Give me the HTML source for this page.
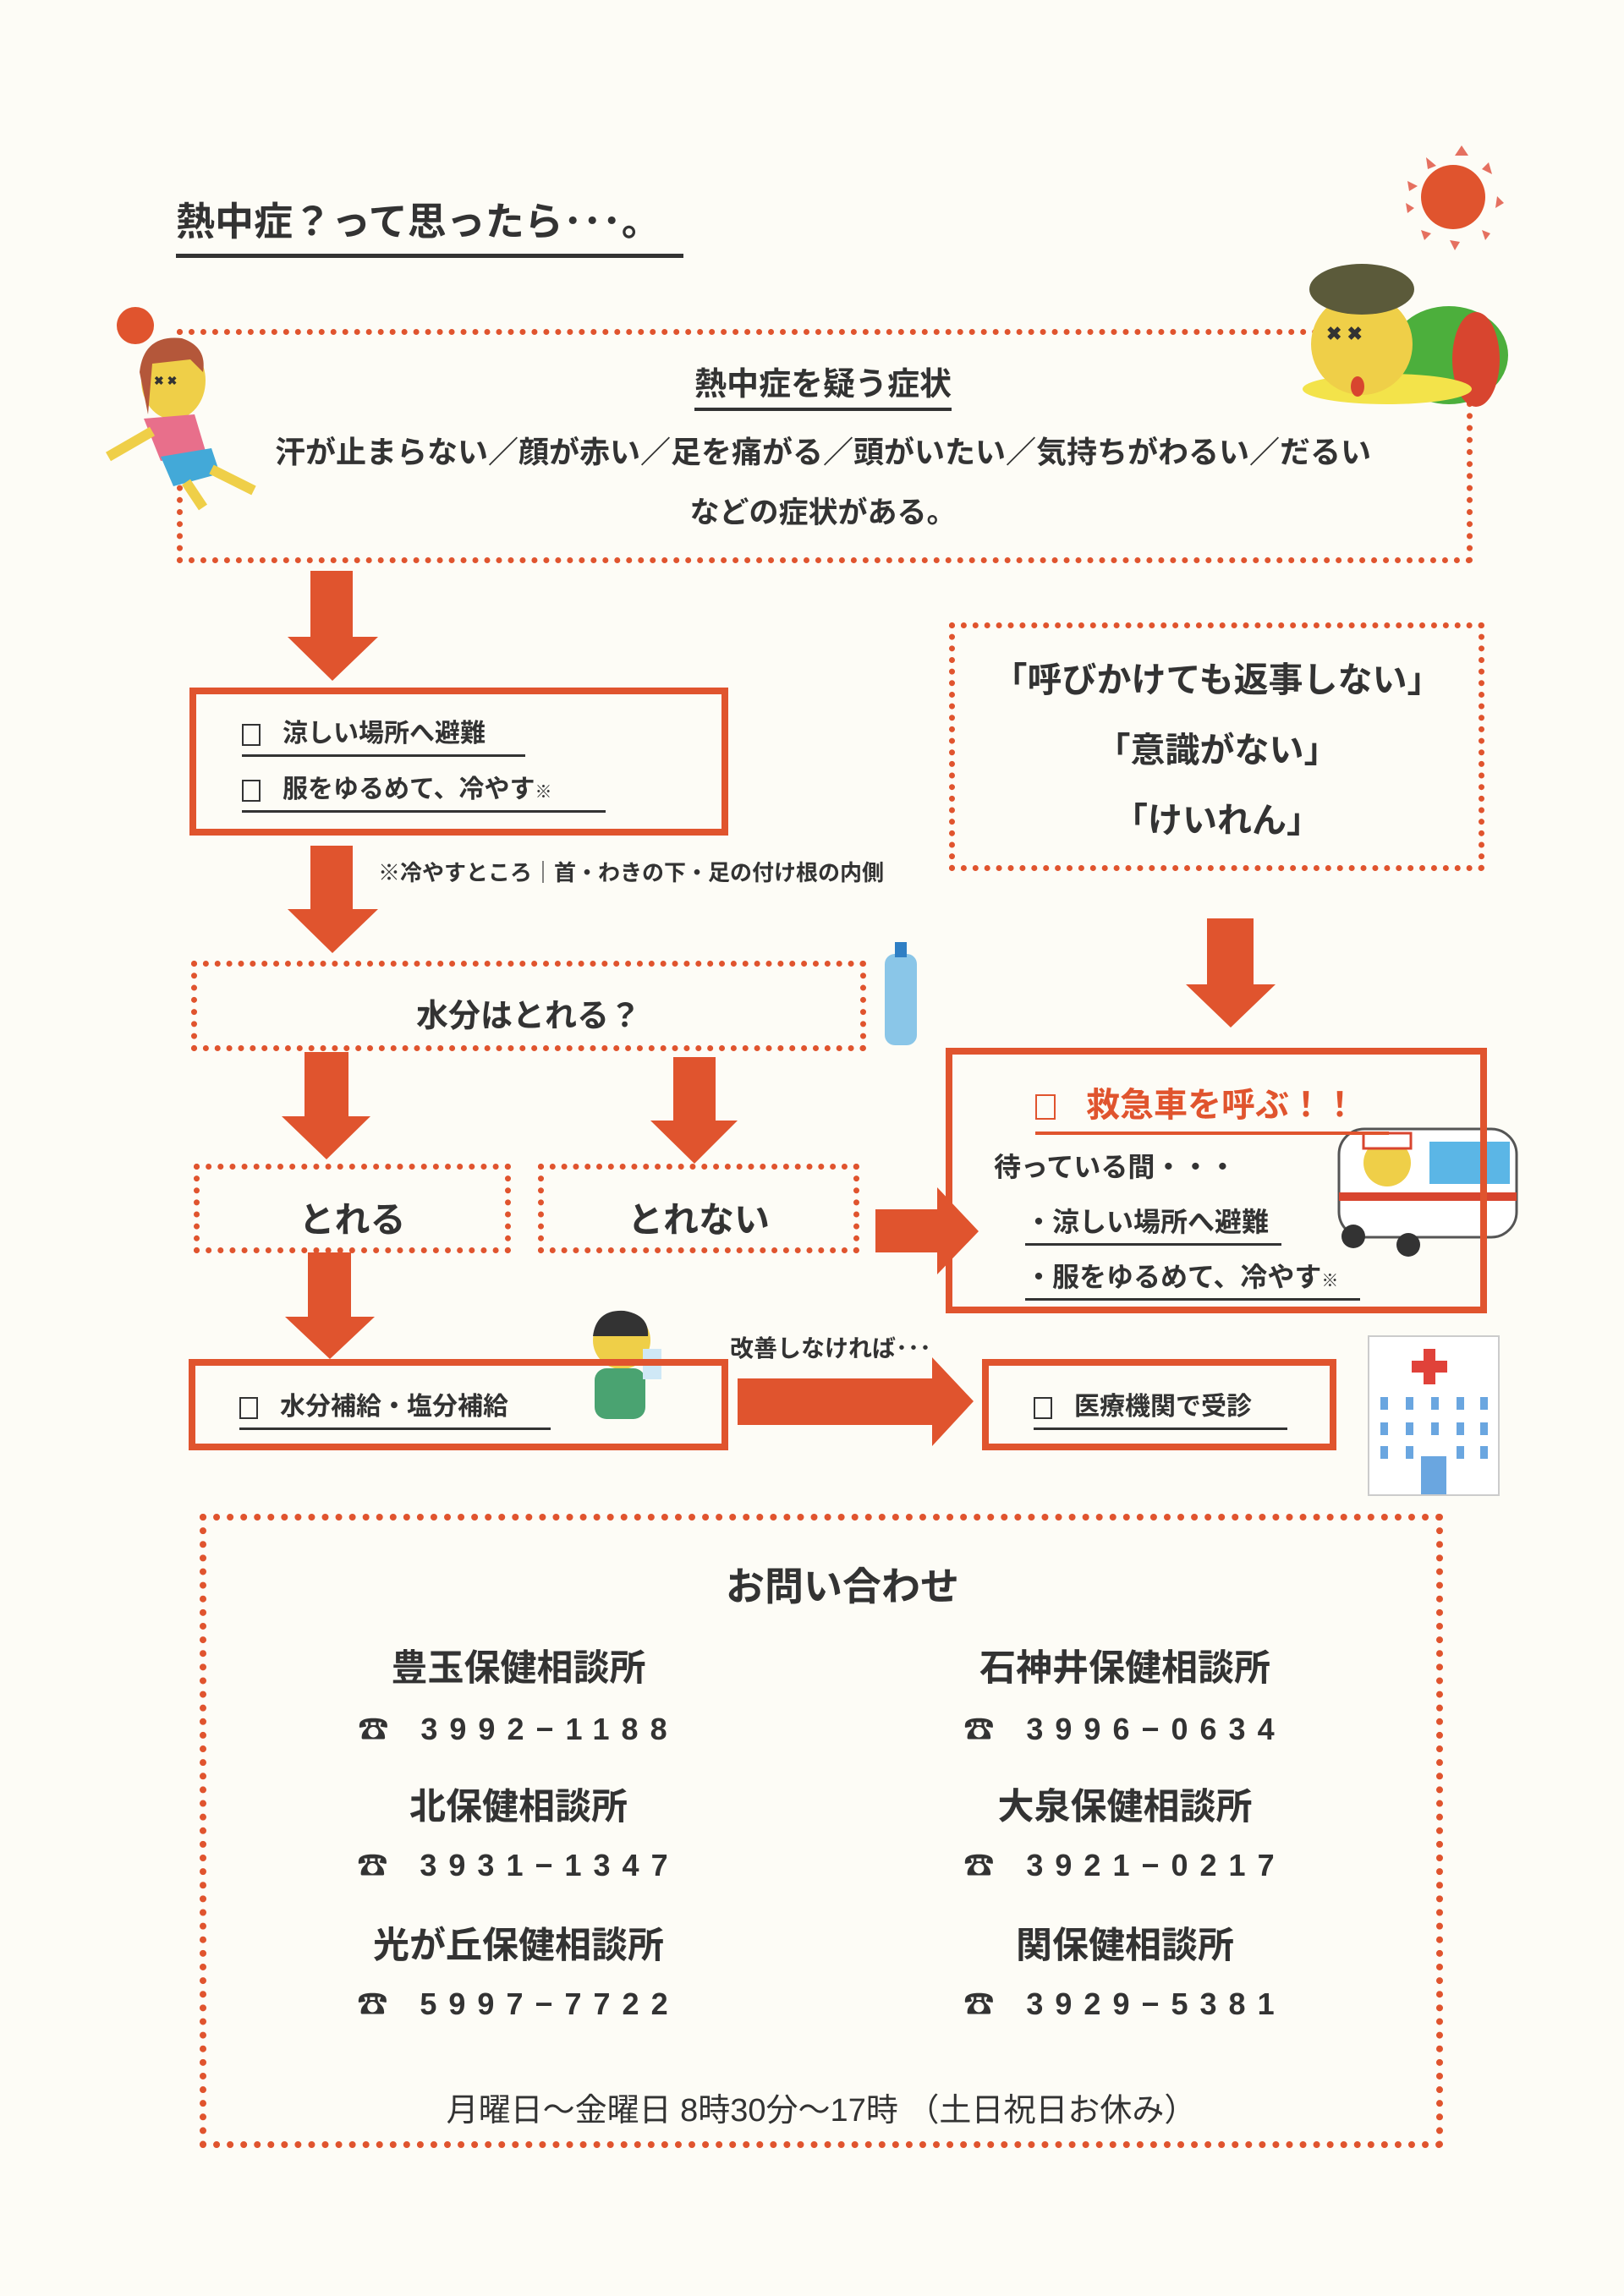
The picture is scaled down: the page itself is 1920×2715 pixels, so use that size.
<!DOCTYPE html>
<html><head><meta charset="utf-8">
<style>
body{margin:0;width:1920px;height:2715px;background:#fdfcf6;position:relative;overflow:hidden;font-family:"Liberation Sans","Noto Sans CJK JP",sans-serif;color:#333;font-weight:bold}
.a{position:absolute}
.dot{position:absolute;border:7px dotted #e0542e;box-sizing:border-box}
.sol{position:absolute;border:8px solid #e0542e;box-sizing:border-box;background:#fff}
.c{text-align:center;white-space:nowrap}
.u{border-bottom:4px solid #333}
.cb{display:inline-block;width:22px;height:26px;border:2px solid #333;vertical-align:middle;margin-right:26px;box-sizing:border-box}
.ph{font-size:36px;letter-spacing:14px}
</style></head><body>

<div class="a" style="left:208px;top:226px;font-size:46px;padding-bottom:8px;border-bottom:5px solid #333;width:600px;white-space:nowrap">熱中症？って思ったら･･･。</div>

<div class="dot" style="left:209px;top:389px;width:1532px;height:277px"></div>
<div class="a c" style="left:0;width:1946px;top:423px;font-size:38px"><span class="u" style="padding-bottom:6px">熱中症を疑う症状</span></div>
<div class="a c" style="left:0;width:1946px;top:506px;font-size:36px">汗が止まらない／顔が赤い／足を痛がる／頭がいたい／気持ちがわるい／だるい</div>
<div class="a c" style="left:0;width:1946px;top:578px;font-size:35px">などの症状がある。</div>

<svg class="a" style="left:0;top:0" width="1920" height="2715">
 <g fill="#e0542e"><circle cx="1718" cy="233" r="38"/></g>
 <g fill="#e57060">
  <polygon points="1728,172 1736,184 1720,184"/><polygon points="1686,186 1698,196 1688,200"/><polygon points="1760,192 1764,206 1752,200"/>
  <polygon points="1664,214 1676,220 1666,226"/><polygon points="1770,232 1778,240 1768,246"/><polygon points="1662,240 1672,246 1664,252"/>
  <polygon points="1680,272 1692,276 1684,284"/><polygon points="1752,272 1762,276 1756,284"/><polygon points="1714,284 1726,286 1720,296"/>
 </g>
 <ellipse cx="1713" cy="420" rx="70" ry="58" fill="#4caf3c"/>
 <ellipse cx="1745" cy="425" rx="28" ry="56" fill="#d8452f"/>
 <ellipse cx="1640" cy="460" rx="100" ry="18" fill="#f3e34a"/>
 <circle cx="1610" cy="407" r="60" fill="#efcf48"/>
 <ellipse cx="1610" cy="342" rx="62" ry="30" fill="#5b5a3a"/>
 <text x="1568" y="402" font-size="22" fill="#333" font-family="Liberation Sans">✖   ✖</text>
 <ellipse cx="1605" cy="457" rx="8" ry="12" fill="#d8452f"/>
 <circle cx="160" cy="385" r="22" fill="#e0542e"/>
 <ellipse cx="205" cy="450" rx="38" ry="46" fill="#efcf48"/>
 <path d="M165 440 Q170 395 215 400 Q245 410 240 440 L225 425 L180 430 L175 490 Z" fill="#b4573a"/>
 <text x="182" y="455" font-size="14" fill="#333" font-family="Liberation Sans">✖ ✖</text>
 <path d="M170 495 L230 490 L245 540 L190 545 Z" fill="#e86f8b"/>
 <path d="M190 540 L250 530 L260 560 L205 575 Z" fill="#43a9d8"/>
 <path d="M180 510 L128 540" stroke="#efcf48" stroke-width="12"/>
 <path d="M220 570 L240 600 M250 555 L300 580" stroke="#efcf48" stroke-width="12"/>
 <rect x="1046" y="1128" width="38" height="108" rx="12" fill="#8ac6e8"/>
 <rect x="1058" y="1114" width="14" height="18" fill="#2f7fc4"/>
 <rect x="1583" y="1335" width="210" height="128" rx="30" fill="#fff" stroke="#555" stroke-width="3"/>
 <rect x="1690" y="1350" width="95" height="50" fill="#5bb6e6"/>
 <rect x="1583" y="1410" width="210" height="10" fill="#d8452f"/>
 <circle cx="1640" cy="1375" r="28" fill="#efcf48"/>
 <rect x="1612" y="1340" width="56" height="18" fill="#fff" stroke="#d8452f" stroke-width="3"/>
 <circle cx="1600" cy="1462" r="14" fill="#333"/><circle cx="1665" cy="1472" r="14" fill="#333"/>
 <circle cx="735" cy="1585" r="34" fill="#efcf48"/>
 <path d="M701 1580 Q705 1548 738 1550 Q768 1555 766 1580 Z" fill="#333"/>
 <rect x="703" y="1618" width="60" height="60" rx="14" fill="#4aa371"/>
 <rect x="760" y="1595" width="22" height="36" fill="#cfe8f6"/>
 <rect x="1618" y="1580" width="154" height="188" fill="#fff" stroke="#ccc" stroke-width="2"/>
 <path d="M1683 1595 h14 v14 h14 v14 h-14 v14 h-14 v-14 h-14 v-14 h14z" fill="#e0423a"/>
 <g fill="#6aa6e0">
  <rect x="1632" y="1652" width="9" height="15"/><rect x="1662" y="1652" width="9" height="15"/><rect x="1692" y="1652" width="9" height="15"/><rect x="1722" y="1652" width="9" height="15"/><rect x="1750" y="1652" width="9" height="15"/>
  <rect x="1632" y="1682" width="9" height="15"/><rect x="1662" y="1682" width="9" height="15"/><rect x="1692" y="1682" width="9" height="15"/><rect x="1722" y="1682" width="9" height="15"/><rect x="1750" y="1682" width="9" height="15"/>
  <rect x="1632" y="1710" width="9" height="15"/><rect x="1662" y="1710" width="9" height="15"/><rect x="1722" y="1710" width="9" height="15"/><rect x="1750" y="1710" width="9" height="15"/>
  <rect x="1680" y="1722" width="30" height="45"/>
 </g>
 <g fill="#e0542e">
  <polygon points="367,675 417,675 417,753 447,753 393,805 340,753 367,753"/>
  <polygon points="367,1000 417,1000 417,1075 447,1075 393,1127 340,1075 367,1075"/>
  <polygon points="1427,1086 1482,1086 1482,1164 1508,1164 1455,1215 1402,1164 1427,1164"/>
  <polygon points="360,1244 412,1244 412,1320 438,1320 386,1371 333,1320 360,1320"/>
  <polygon points="796,1250 846,1250 846,1325 872,1325 821,1376 769,1325 796,1325"/>
  <polygon points="364,1481 415,1481 415,1557 443,1557 390,1607 337,1557 364,1557"/>
  <polygon points="1035,1430 1108,1430 1108,1404 1157,1456 1108,1507 1108,1481 1035,1481"/>
  <polygon points="872,1630 1102,1630 1102,1605 1151,1657 1102,1710 1102,1685 872,1685"/>
 </g>
</svg>

<div class="sol" style="left:224px;top:813px;width:637px;height:175px;background:transparent"></div>
<div class="a" style="left:286px;top:842px;font-size:30px;white-space:nowrap;width:335px;border-bottom:3px solid #333;padding-bottom:6px"><span class="cb"></span>涼しい場所へ避難</div>
<div class="a" style="left:286px;top:908px;font-size:30px;white-space:nowrap;width:430px;border-bottom:3px solid #333;padding-bottom:6px"><span class="cb"></span>服をゆるめて、冷やす<span style="font-size:20px">※</span></div>
<div class="a" style="left:447px;top:1012px;font-size:26px;white-space:nowrap">※冷やすところ｜首・わきの下・足の付け根の内側</div>

<div class="dot" style="left:1122px;top:736px;width:633px;height:294px"></div>
<div class="a c" style="left:1124px;width:630px;top:770px;font-size:41px">「呼びかけても返事しない」</div>
<div class="a c" style="left:1124px;width:630px;top:853px;font-size:41px">「意識がない」</div>
<div class="a c" style="left:1124px;width:630px;top:936px;font-size:41px">「けいれん」</div>

<div class="dot" style="left:226px;top:1136px;width:798px;height:107px"></div>
<div class="a c" style="left:226px;width:798px;top:1170px;font-size:38px">水分はとれる？</div>
<div class="dot" style="left:229px;top:1376px;width:375px;height:106px"></div>
<div class="a c" style="left:229px;width:375px;top:1409px;font-size:42px">とれる</div>
<div class="dot" style="left:636px;top:1376px;width:380px;height:106px"></div>
<div class="a c" style="left:636px;width:380px;top:1409px;font-size:42px">とれない</div>

<div class="sol" style="left:1118px;top:1239px;width:640px;height:314px;background:transparent"></div>
<div class="a" style="left:1224px;top:1274px;font-size:40px;color:#e0542e;white-space:nowrap;width:418px;border-bottom:4px solid #e0542e;padding-bottom:6px"><span class="cb" style="border-color:#e0542e;width:24px;height:30px;margin-right:36px"></span>救急車を呼ぶ！！</div>
<div class="a" style="left:1175px;top:1355px;font-size:32px;white-space:nowrap">待っている間・・・</div>
<div class="a" style="left:1212px;top:1420px;font-size:32px;white-space:nowrap;width:303px;border-bottom:3px solid #333;padding-bottom:4px">・涼しい場所へ避難</div>
<div class="a" style="left:1212px;top:1485px;font-size:32px;white-space:nowrap;width:396px;border-bottom:3px solid #333;padding-bottom:4px">・服をゆるめて、冷やす<span style="font-size:20px">※</span></div>

<div class="sol" style="left:223px;top:1607px;width:638px;height:108px;background:transparent"></div>
<div class="a" style="left:283px;top:1638px;font-size:30px;white-space:nowrap;width:368px;border-bottom:3px solid #333;padding-bottom:6px"><span class="cb"></span>水分補給・塩分補給</div>
<div class="a" style="left:863px;top:1573px;font-size:28px;white-space:nowrap">改善しなければ･･･</div>
<div class="sol" style="left:1161px;top:1607px;width:419px;height:108px;background:transparent"></div>
<div class="a" style="left:1222px;top:1638px;font-size:30px;white-space:nowrap;width:300px;border-bottom:3px solid #333;padding-bottom:6px"><span class="cb"></span>医療機関で受診</div>

<div class="dot" style="left:236px;top:1790px;width:1470px;height:750px;border-width:8px"></div>
<div class="a c" style="left:236px;width:1520px;top:1840px;font-size:46px">お問い合わせ</div>
<div class="a c" style="left:413px;width:400px;top:1938px;font-size:43px">豊玉保健相談所</div>
<div class="a c" style="left:1130px;width:400px;top:1938px;font-size:43px">石神井保健相談所</div>
<div class="a c ph" style="left:413px;width:400px;top:2016px">☎ 3992−1188</div>
<div class="a c ph" style="left:1130px;width:400px;top:2016px">☎ 3996−0634</div>
<div class="a c" style="left:413px;width:400px;top:2102px;font-size:43px">北保健相談所</div>
<div class="a c" style="left:1130px;width:400px;top:2102px;font-size:43px">大泉保健相談所</div>
<div class="a c ph" style="left:413px;width:400px;top:2177px">☎ 3931−1347</div>
<div class="a c ph" style="left:1130px;width:400px;top:2177px">☎ 3921−0217</div>
<div class="a c" style="left:413px;width:400px;top:2266px;font-size:43px">光が丘保健相談所</div>
<div class="a c" style="left:1130px;width:400px;top:2266px;font-size:43px">関保健相談所</div>
<div class="a c ph" style="left:413px;width:400px;top:2341px">☎ 5997−7722</div>
<div class="a c ph" style="left:1130px;width:400px;top:2341px">☎ 3929−5381</div>
<div class="a c" style="left:236px;width:1470px;top:2464px;font-size:38px;font-weight:normal">月曜日～金曜日 8時30分～17時 （土日祝日お休み）</div>
</body></html>
